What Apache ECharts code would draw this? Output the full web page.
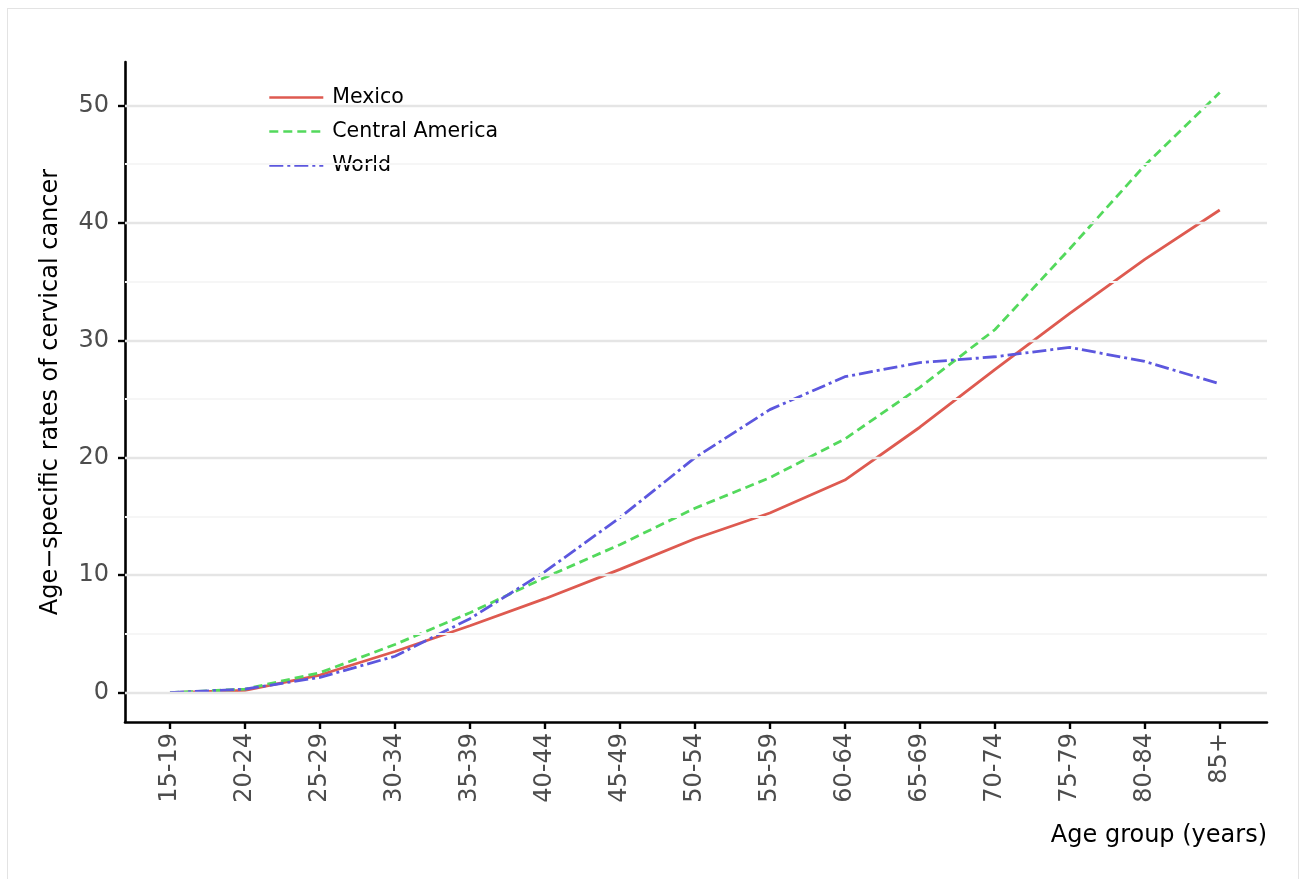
<!DOCTYPE html>
<html>
<head>
<meta charset="utf-8">
<title>Age-specific rates of cervical cancer</title>
<script src="https://cdn.jsdelivr.net/npm/echarts@6/dist/echarts.min.js"></script>
<style>
    html, body {
        margin: 0;
        padding: 0;
        background: #fff;
    }
    .frame {
        position: absolute;
        left: 7px;
        top: 8px;
        width: 1292px;
        height: 900px;
        border: 1px solid #e3e3e3;
        box-sizing: border-box;
    }
    #chart {
        position: absolute;
        left: 0;
        top: 0;
        width: 1309px;
        height: 879px;
    }
</style>
</head>
<body>
<div class="frame"></div>
<div id="chart"></div>
<script>
// age groups on the x axis
const ageGroups = ['15-19', '20-24', '25-29', '30-34', '35-39', '40-44', '45-49', '50-54',
    '55-59', '60-64', '65-69', '70-74', '75-79', '80-84', '85+']

// rates per series
const mexico = [0, 0.2, 1.5, 3.5, 5.7, 8.0, 10.5, 13.1, 15.3, 18.1, 22.6, 27.5, 32.3, 36.9, 41.1]
const centralAmerica = [0, 0.3, 1.7, 4.1, 6.8, 9.8, 12.6, 15.7, 18.3, 21.6, 26.0, 30.9, 37.8, 44.9, 51.1]
const world = [0, 0.3, 1.3, 3.1, 6.3, 10.3, 14.9, 20.0, 24.1, 26.9, 28.1, 28.6, 29.4, 28.2, 26.3]

// y axis ticks and gridlines
const yTicks = [0, 10, 20, 30, 40, 50]
const yMinorLines = [5, 15, 25, 35, 45]

const chart = echarts.init(document.getElementById('chart'))

const toPairs = (arr) => arr.map((v, i) => [i, v])
const xIdx = ageGroups.map((_, i) => i)
const font = 'DejaVu Sans'

// gridlines drawn as markLines (major + faint minor)
const gridLines = yTicks.map((v) => ({ yAxis: v, lineStyle: { color: '#e5e5e5', width: 2.4, type: 'solid' } }))
    .concat(yMinorLines.map((v) => ({ yAxis: v, lineStyle: { color: '#f6f6f6', width: 2, type: 'solid' } })))

const option = {
    animation: false,
    textStyle: { fontFamily: font },
    grid: {
        left: 125,
        right: 42,
        top: 62,
        bottom: 157
    },
    legend: {
        orient: 'vertical',
        left: 268,
        top: 87,
        padding: 0,
        itemWidth: 54,
        itemHeight: 14,
        itemGap: 13,
        data: ['Mexico', 'Central America', 'World'],
        itemStyle: { opacity: 0 },
        lineStyle: { width: 2.6 },
        textStyle: {
            fontFamily: font,
            fontSize: 20.5,
            color: '#000',
            padding: [0, 0, 0, 4]
        }
    },
    xAxis: {
        type: 'value',
        min: -0.6,
        max: 14.63,
        name: 'Age group (years)',
        nameLocation: 'end',
        nameGap: 0,
        nameTextStyle: {
            fontFamily: font,
            fontSize: 24,
            color: '#000',
            align: 'right',
            verticalAlign: 'top',
            padding: [102, 0, 0, 0]
        },
        axisLine: { onZero: false, lineStyle: { color: '#000', width: 2.6 } },
        axisTick: { customValues: xIdx, length: 7, lineStyle: { color: '#000', width: 2.4 } },
        axisLabel: {
            customValues: xIdx,
            rotate: 90,
            margin: 11,
            fontFamily: font,
            fontSize: 24,
            color: '#4d4d4d',
            formatter: (v) => ageGroups[v]
        },
        splitLine: { show: false }
    },
    yAxis: {
        type: 'value',
        min: -2.5,
        max: 53.7,
        name: 'Age−specific rates of cervical cancer',
        nameLocation: 'middle',
        nameGap: 62,
        nameTextStyle: { fontFamily: font, fontSize: 24, color: '#000' },
        axisLine: { show: true, onZero: false, lineStyle: { color: '#000', width: 2.6 } },
        axisTick: { show: true, customValues: yTicks, length: 7, lineStyle: { color: '#000', width: 2.4 } },
        axisLabel: {
            customValues: yTicks,
            margin: 16,
            fontFamily: font,
            fontSize: 24,
            color: '#4d4d4d'
        },
        splitLine: { show: false }
    },
    series: [
        {
            name: 'gridlines',
            type: 'line',
            data: toPairs(mexico),
            symbol: 'none',
            silent: true,
            z: 0,
            lineStyle: { opacity: 0 },
            markLine: {
                silent: true,
                symbol: ['none', 'none'],
                label: { show: false },
                animation: false,
                data: gridLines
            }
        },
        {
            name: 'Mexico',
            type: 'line',
            data: toPairs(mexico),
            symbol: 'none',
            z: 3,
            color: '#de5a50',
            lineStyle: { color: '#de5a50', width: 2.8, type: 'solid' }
        },
        {
            name: 'Central America',
            type: 'line',
            data: toPairs(centralAmerica),
            symbol: 'none',
            z: 3,
            color: '#53d95c',
            lineStyle: { color: '#53d95c', width: 2.8, type: [9, 5] }
        },
        {
            name: 'World',
            type: 'line',
            data: toPairs(world),
            symbol: 'none',
            z: 3,
            color: '#5c57de',
            lineStyle: { color: '#5c57de', width: 2.8, type: [14, 4, 3, 4] }
        }
    ]
}

chart.setOption(option)
</script>
</body>
</html>
